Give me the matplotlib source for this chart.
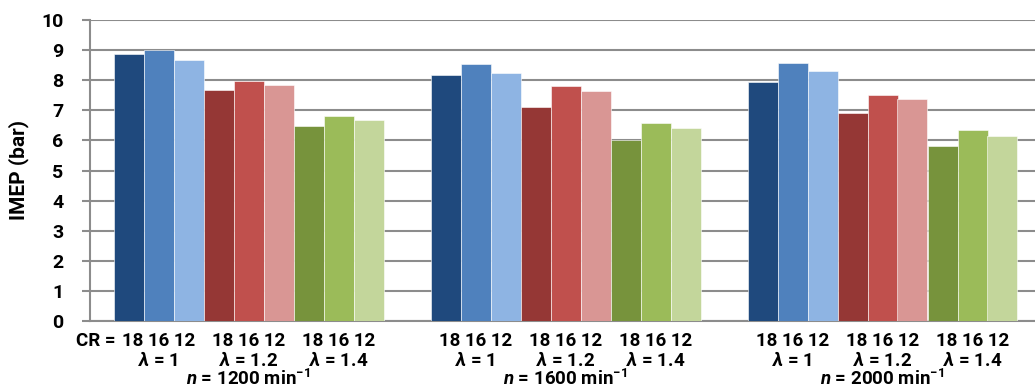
import matplotlib
matplotlib.use("Agg")
import matplotlib.pyplot as plt
import numpy as np

# ---- data ----
speeds = ["1200", "1600", "2000"]
lambdas = ["1", "1.2", "1.4"]
crs = ["18", "16", "12"]
# rows: engine speed; columns: CR 18, 16, 12
imep_lambda_1 = [[8.87, 9.00, 8.66], [8.17, 8.53, 8.23], [7.93, 8.56, 8.31]]
imep_lambda_12 = [[7.68, 7.97, 7.83], [7.12, 7.82, 7.65], [6.92, 7.51, 7.37]]
imep_lambda_14 = [[6.49, 6.81, 6.68], [6.01, 6.58, 6.40], [5.81, 6.34, 6.15]]
y_ticks = list(range(0, 11))

colors = {
    "1": ["#1F497D", "#4F81BD", "#8EB4E3"],
    "1.2": ["#953735", "#C0504D", "#D99694"],
    "1.4": ["#77933C", "#9BBB59", "#C3D69B"],
}

FONT = "Roboto"
plt.rcParams["font.family"] = [FONT, "DejaVu Sans"]
plt.rcParams["font.weight"] = "bold"
plt.rcParams["mathtext.fontset"] = "custom"
plt.rcParams["mathtext.rm"] = FONT + ":bold"
plt.rcParams["mathtext.bf"] = FONT + ":bold"
plt.rcParams["mathtext.it"] = FONT + ":bold:italic"
plt.rcParams["mathtext.bfit"] = FONT + ":bold:italic"
plt.rcParams["mathtext.fallback"] = "stixsans"

W, H = 1035, 389
fig = plt.figure(figsize=(W / 100, H / 100), dpi=100)
ax_left, ax_right = 90, 1035
ax_top, ax_bottom = 20, 321
ax = fig.add_axes([ax_left / W, 1 - ax_bottom / H, (ax_right - ax_left) / W, (ax_bottom - ax_top) / H])

cat_px = 317.0
bw = 30.0 / cat_px
x = np.arange(len(speeds))
data = {"1": imep_lambda_1, "1.2": imep_lambda_12, "1.4": imep_lambda_14}

for li, lam in enumerate(lambdas):
    vals = np.array(data[lam])
    for ci, cr in enumerate(crs):
        j = li * 3 + ci
        ax.bar(x + (j - 4) * bw, vals[:, ci], width=bw, color=colors[lam][ci],
               edgecolor="white", linewidth=0.4, zorder=3)

ax.set_xlim(-0.5, -0.5 + (ax_right - ax_left) / cat_px)
ax.set_ylim(0, 10)
ax.set_yticks(y_ticks)
fs_y = 14
fs = 13.5
ax.set_yticklabels([str(t) for t in y_ticks], fontsize=fs_y, fontweight="bold")
ax.yaxis.grid(True, color="#8C8C8C", linewidth=1.5, zorder=0)
ax.set_axisbelow(True)
ax.set_xticks([])
for s in ["top", "right"]:
    ax.spines[s].set_visible(False)
for s in ["left", "bottom"]:
    ax.spines[s].set_color("#8C8C8C")
    ax.spines[s].set_linewidth(1.5)
ax.tick_params(axis="y", length=6, width=1.5, color="#8C8C8C", pad=13)

fig.text(19 / W, 1 - 170 / H, "IMEP (bar)", rotation=90, ha="center", va="center",
         fontsize=15, fontweight="bold")

first_label = None
for gi, sp in enumerate(speeds):
    for li, lam in enumerate(lambdas):
        xc = x[gi] + (li * 3 + 1 - 4) * bw
        t = ax.annotate(" ".join(crs), xy=(xc, 0), xycoords=("data", "axes fraction"),
                        xytext=(0, -25), textcoords="offset pixels", ha="center", va="baseline",
                        fontsize=fs, fontweight="bold", annotation_clip=False)
        if first_label is None:
            first_label = t
        ax.annotate(r"$\mathbfit{\lambda}$ = " + lam, xy=(xc, 0), xycoords=("data", "axes fraction"),
                    xytext=(0, -45), textcoords="offset pixels", ha="center", va="baseline",
                    fontsize=fs, fontweight="bold", annotation_clip=False)
    ax.annotate(r"$\mathbfit{n}$ = " + sp + r" min$^{\mathbf{-1}}$", xy=(x[gi], 0),
                xycoords=("data", "axes fraction"), xytext=(0, -64), textcoords="offset pixels",
                ha="center", va="baseline", fontsize=fs, fontweight="bold", annotation_clip=False)

fig.canvas.draw()
bb = first_label.get_window_extent()
ax.annotate("CR =", xy=(x[0] + (1 - 4) * bw, 0), xycoords=("data", "axes fraction"),
            xytext=(-(bb.x1 - bb.x0) / 2 - 6, -25), textcoords="offset pixels",
            ha="right", va="baseline", fontsize=fs, fontweight="bold", annotation_clip=False)

fig.savefig("out.png", dpi=100)
